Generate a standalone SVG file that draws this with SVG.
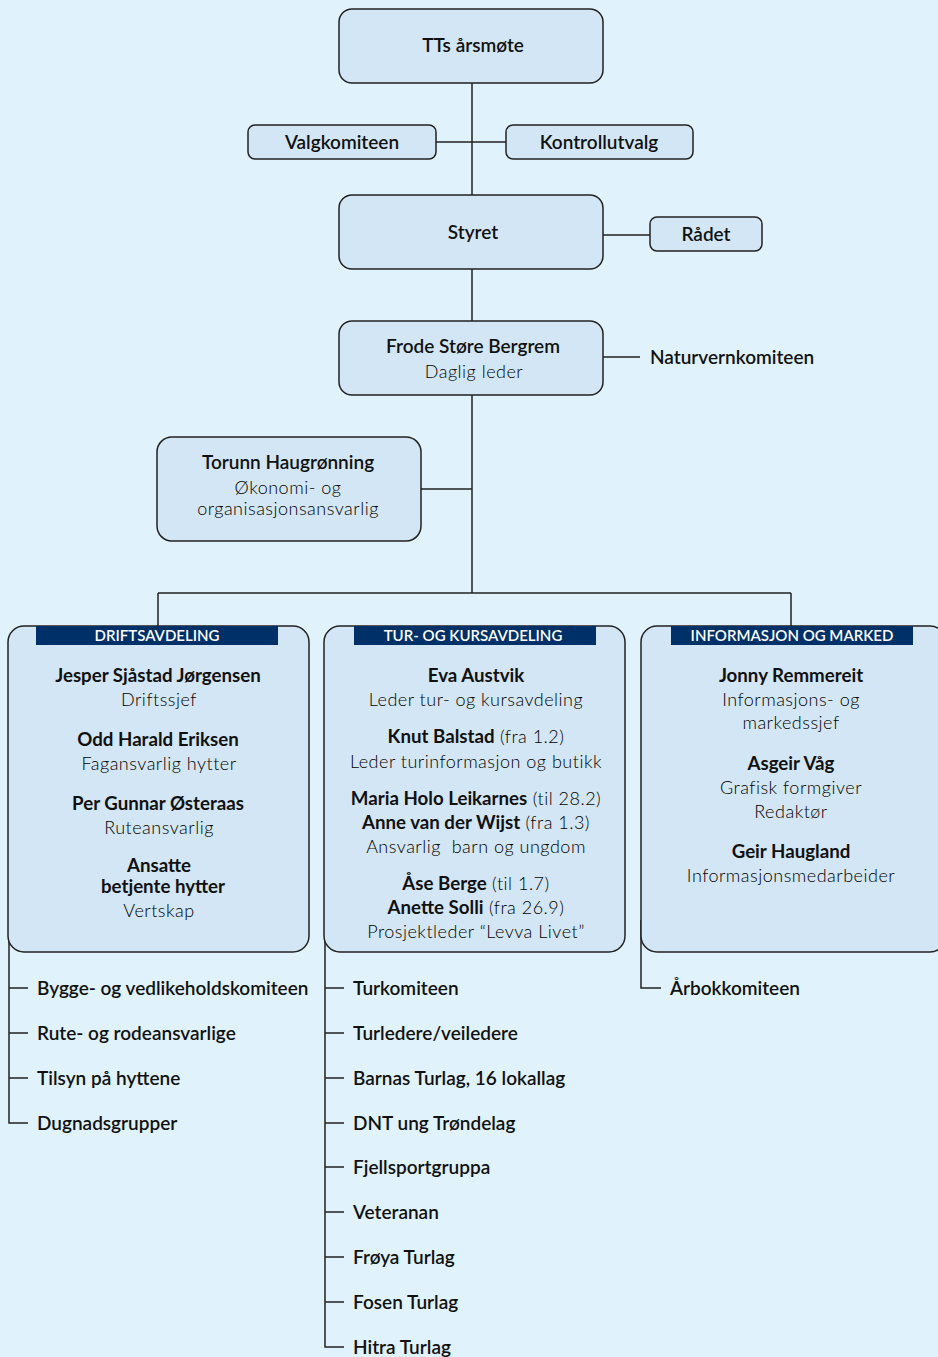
<svg xmlns="http://www.w3.org/2000/svg" width="938" height="1357" viewBox="0 0 938 1357">
<style>
.bg{fill:#e0f2fc}
.box{fill:#d3e6f5;stroke:#222;stroke-width:1.5}
.hdr{fill:#003068}
.ln{stroke:#222;stroke-width:1.5;fill:none}
text{font-family:Lato,"Open Sans","Liberation Sans",sans-serif;fill:#111}
.b{font-weight:700;font-size:18.7px}
.t{font-weight:600;font-size:19px}
.r{font-weight:300;font-size:18px;fill:#000;letter-spacing:0.5px}
.h{font-weight:600;font-size:15px;fill:#fff}
.c{text-anchor:middle}
</style>
<rect class="bg" x="0" y="0" width="938" height="1357"/>
<g id="connectors">
<path class="ln" d="M472 83V195M436 142H506M603 235H650M472 269V321M603 357H640M472 395V593M421 489H472M158 593H791M158 593V626M791 593V626"/>
<path class="ln" d="M9 920V1123H28M9 988H28M9 1033H28M9 1078H28"/>
<path class="ln" d="M325 920V1347H344M325 988H344M325 1033H344M325 1078H344M325 1123H344M325 1167H344M325 1212H344M325 1257H344M325 1302H344"/>
<path class="ln" d="M641 920V988H661"/>
</g>
<g id="n-arsmote"><rect class="box" x="339" y="9" width="264" height="74" rx="13"/><text class="t c" x="473" y="52">TTs årsmøte</text></g>
<g id="n-valg"><rect class="box" x="248" y="125" width="188" height="34" rx="7"/><text class="t c" x="342" y="149">Valgkomiteen</text></g>
<g id="n-kontroll"><rect class="box" x="506" y="125" width="187" height="34" rx="7"/><text class="t c" x="599" y="149">Kontrollutvalg</text></g>
<g id="n-styret"><rect class="box" x="339" y="195" width="264" height="74" rx="13"/><text class="t c" x="473" y="239">Styret</text></g>
<g id="n-radet"><rect class="box" x="650" y="217" width="112" height="34" rx="7"/><text class="t c" x="706" y="241">Rådet</text></g>
<g id="n-frode"><rect class="box" x="339" y="321" width="264" height="74" rx="13"/><text class="t c" x="473" y="353">Frode Støre Bergrem</text><text class="r c" x="474" y="378">Daglig leder</text></g>
<g id="n-natur"><text class="t" x="650" y="364">Naturvernkomiteen</text></g>
<g id="n-torunn"><rect class="box" x="157" y="437" width="264" height="104" rx="15"/><text class="t c" x="288" y="469">Torunn Haugrønning</text><text class="r c" x="288" y="494">Økonomi- og</text><text class="r c" x="288" y="515">organisasjonsansvarlig</text></g>
<g id="n-drift">
<rect class="box" x="8" y="626" width="301" height="326" rx="16"/>
<rect class="hdr" x="36" y="626" width="242" height="19"/>
<text class="h c" x="157" y="641">DRIFTSAVDELING</text>
<text class="b c" x="158" y="682">Jesper Sjåstad Jørgensen</text>
<text class="r c" x="159" y="706">Driftssjef</text>
<text class="b c" x="158" y="746">Odd Harald Eriksen</text>
<text class="r c" x="159" y="770">Fagansvarlig hytter</text>
<text class="b c" x="158" y="810">Per Gunnar Østeraas</text>
<text class="r c" x="159" y="834">Ruteansvarlig</text>
<text class="b c" x="159" y="872">Ansatte</text>
<text class="b c" x="163" y="893">betjente hytter</text>
<text class="r c" x="159" y="917">Vertskap</text>
</g>
<g id="n-tur">
<rect class="box" x="324" y="626" width="301" height="326" rx="16"/>
<rect class="hdr" x="354" y="626" width="242" height="19"/>
<text class="h c" x="473" y="641">TUR- OG KURSAVDELING</text>
<text class="b c" x="476" y="682">Eva Austvik</text>
<text class="r c" x="476" y="706">Leder tur- og kursavdeling</text>
<text class="c" x="476" y="743"><tspan class="b">Knut Balstad</tspan><tspan class="r"> (fra 1.2)</tspan></text>
<text class="r c" x="476" y="768">Leder turinformasjon og butikk</text>
<text class="c" x="476" y="805"><tspan class="b">Maria Holo Leikarnes</tspan><tspan class="r"> (til 28.2)</tspan></text>
<text class="c" x="476" y="829"><tspan class="b">Anne van der Wijst</tspan><tspan class="r"> (fra 1.3)</tspan></text>
<text class="r c" x="476" y="853" xml:space="preserve">Ansvarlig  barn og ungdom</text>
<text class="c" x="476" y="890"><tspan class="b">Åse Berge</tspan><tspan class="r"> (til 1.7)</tspan></text>
<text class="c" x="476" y="914"><tspan class="b">Anette Solli</tspan><tspan class="r"> (fra 26.9)</tspan></text>
<text class="r c" x="476" y="938">Prosjektleder “Levva Livet”</text>
</g>
<g id="n-info">
<rect class="box" x="641" y="626" width="305" height="326" rx="16"/>
<rect class="hdr" x="671" y="626" width="242" height="19"/>
<text class="h c" x="792" y="641">INFORMASJON OG MARKED</text>
<text class="b c" x="791" y="682">Jonny Remmereit</text>
<text class="r c" x="791" y="706">Informasjons- og</text>
<text class="r c" x="791" y="729">markedssjef</text>
<text class="b c" x="791" y="770">Asgeir Våg</text>
<text class="r c" x="791" y="794">Grafisk formgiver</text>
<text class="r c" x="791" y="818">Redaktør</text>
<text class="b c" x="791" y="858">Geir Haugland</text>
<text class="r c" x="791" y="882">Informasjonsmedarbeider</text>
</g>
<g id="list-drift">
<text class="t" x="37" y="995">Bygge- og vedlikeholdskomiteen</text>
<text class="t" x="37" y="1040">Rute- og rodeansvarlige</text>
<text class="t" x="37" y="1085">Tilsyn på hyttene</text>
<text class="t" x="37" y="1130">Dugnadsgrupper</text>
</g>
<g id="list-tur">
<text class="t" x="353" y="995">Turkomiteen</text>
<text class="t" x="353" y="1040">Turledere/veiledere</text>
<text class="t" x="353" y="1085">Barnas Turlag, 16 lokallag</text>
<text class="t" x="353" y="1130">DNT ung Trøndelag</text>
<text class="t" x="353" y="1174">Fjellsportgruppa</text>
<text class="t" x="353" y="1219">Veteranan</text>
<text class="t" x="353" y="1264">Frøya Turlag</text>
<text class="t" x="353" y="1309">Fosen Turlag</text>
<text class="t" x="353" y="1354">Hitra Turlag</text>
</g>
<g id="list-info">
<text class="t" x="670" y="995">Årbokkomiteen</text>
</g>
</svg>
